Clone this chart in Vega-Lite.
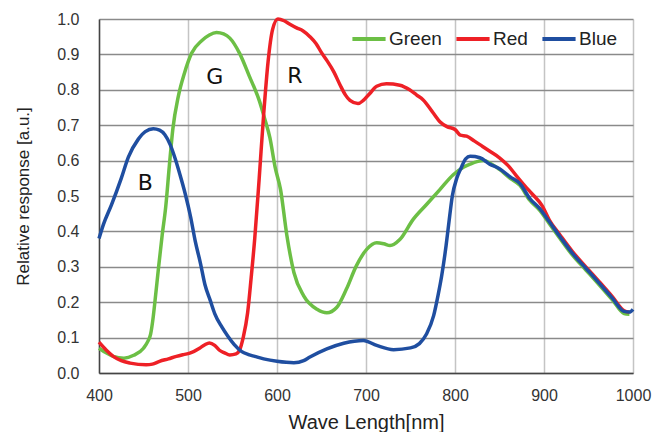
{
  "$schema": "https://vega.github.io/schema/vega-lite/v6.json",
  "width": 534,
  "height": 354,
  "autosize": {"type": "none"},
  "padding": {"left": 99, "top": 19, "right": 35, "bottom": 59},
  "background": "white",
  "config": {
    "view": {"stroke": null},
    "font": "Liberation Sans",
    "axis": {"labelFont": "Liberation Sans", "titleFont": "Liberation Sans", "labelColor": "#333", "titleColor": "#222", "labelFontSize": 16, "titleFontWeight": "normal", "ticks": false, "labelFlush": false}
  },
  "datasets": {
    "curves": [
      {"wl": 400, "v": 0.07, "s": "Green"}, {"wl": 408, "v": 0.057, "s": "Green"}, {"wl": 416, "v": 0.047, "s": "Green"}, {"wl": 428, "v": 0.042, "s": "Green"}, {"wl": 439, "v": 0.05, "s": "Green"}, {"wl": 450, "v": 0.07, "s": "Green"}, {"wl": 455, "v": 0.09, "s": "Green"}, {"wl": 458, "v": 0.11, "s": "Green"}, {"wl": 461, "v": 0.16, "s": "Green"}, {"wl": 463, "v": 0.205, "s": "Green"}, {"wl": 467, "v": 0.3, "s": "Green"}, {"wl": 471, "v": 0.39, "s": "Green"}, {"wl": 475, "v": 0.47, "s": "Green"}, {"wl": 479, "v": 0.584, "s": "Green"}, {"wl": 483, "v": 0.69, "s": "Green"}, {"wl": 489, "v": 0.78, "s": "Green"}, {"wl": 496, "v": 0.847, "s": "Green"}, {"wl": 504, "v": 0.903, "s": "Green"}, {"wl": 516, "v": 0.94, "s": "Green"}, {"wl": 524, "v": 0.955, "s": "Green"}, {"wl": 532, "v": 0.962, "s": "Green"}, {"wl": 540, "v": 0.958, "s": "Green"}, {"wl": 547, "v": 0.946, "s": "Green"}, {"wl": 558, "v": 0.903, "s": "Green"}, {"wl": 569, "v": 0.838, "s": "Green"}, {"wl": 580, "v": 0.77, "s": "Green"}, {"wl": 586, "v": 0.72, "s": "Green"}, {"wl": 592, "v": 0.665, "s": "Green"}, {"wl": 598, "v": 0.58, "s": "Green"}, {"wl": 604, "v": 0.518, "s": "Green"}, {"wl": 611, "v": 0.39, "s": "Green"}, {"wl": 619, "v": 0.284, "s": "Green"}, {"wl": 630, "v": 0.218, "s": "Green"}, {"wl": 645, "v": 0.18, "s": "Green"}, {"wl": 656, "v": 0.17, "s": "Green"}, {"wl": 667, "v": 0.185, "s": "Green"}, {"wl": 678, "v": 0.237, "s": "Green"}, {"wl": 689, "v": 0.302, "s": "Green"}, {"wl": 701, "v": 0.35, "s": "Green"}, {"wl": 712, "v": 0.368, "s": "Green"}, {"wl": 720, "v": 0.365, "s": "Green"}, {"wl": 727, "v": 0.36, "s": "Green"}, {"wl": 738, "v": 0.377, "s": "Green"}, {"wl": 753, "v": 0.434, "s": "Green"}, {"wl": 768, "v": 0.476, "s": "Green"}, {"wl": 783, "v": 0.518, "s": "Green"}, {"wl": 798, "v": 0.56, "s": "Green"}, {"wl": 810, "v": 0.582, "s": "Green"}, {"wl": 817, "v": 0.59, "s": "Green"}, {"wl": 832, "v": 0.6, "s": "Green"}, {"wl": 840, "v": 0.592, "s": "Green"}, {"wl": 850, "v": 0.575, "s": "Green"}, {"wl": 862, "v": 0.55, "s": "Green"}, {"wl": 873, "v": 0.53, "s": "Green"}, {"wl": 884, "v": 0.488, "s": "Green"}, {"wl": 895, "v": 0.46, "s": "Green"}, {"wl": 906, "v": 0.422, "s": "Green"}, {"wl": 918, "v": 0.38, "s": "Green"}, {"wl": 932, "v": 0.333, "s": "Green"}, {"wl": 947, "v": 0.291, "s": "Green"}, {"wl": 962, "v": 0.249, "s": "Green"}, {"wl": 977, "v": 0.206, "s": "Green"}, {"wl": 990, "v": 0.168, "s": "Green"}, {"wl": 996, "v": 0.166, "s": "Green"},
      {"wl": 400, "v": 0.087, "s": "Red"}, {"wl": 408, "v": 0.065, "s": "Red"}, {"wl": 416, "v": 0.047, "s": "Red"}, {"wl": 425, "v": 0.035, "s": "Red"}, {"wl": 435, "v": 0.028, "s": "Red"}, {"wl": 453, "v": 0.023, "s": "Red"}, {"wl": 460, "v": 0.025, "s": "Red"}, {"wl": 468, "v": 0.033, "s": "Red"}, {"wl": 478, "v": 0.04, "s": "Red"}, {"wl": 487, "v": 0.047, "s": "Red"}, {"wl": 495, "v": 0.052, "s": "Red"}, {"wl": 502, "v": 0.056, "s": "Red"}, {"wl": 513, "v": 0.07, "s": "Red"}, {"wl": 519, "v": 0.08, "s": "Red"}, {"wl": 524, "v": 0.085, "s": "Red"}, {"wl": 530, "v": 0.078, "s": "Red"}, {"wl": 535, "v": 0.065, "s": "Red"}, {"wl": 541, "v": 0.057, "s": "Red"}, {"wl": 547, "v": 0.051, "s": "Red"}, {"wl": 554, "v": 0.054, "s": "Red"}, {"wl": 558, "v": 0.065, "s": "Red"}, {"wl": 562, "v": 0.1, "s": "Red"}, {"wl": 567, "v": 0.17, "s": "Red"}, {"wl": 571, "v": 0.27, "s": "Red"}, {"wl": 575, "v": 0.38, "s": "Red"}, {"wl": 580, "v": 0.55, "s": "Red"}, {"wl": 585, "v": 0.73, "s": "Red"}, {"wl": 590, "v": 0.88, "s": "Red"}, {"wl": 595, "v": 0.97, "s": "Red"}, {"wl": 601, "v": 1.0, "s": "Red"}, {"wl": 608, "v": 0.995, "s": "Red"}, {"wl": 614, "v": 0.986, "s": "Red"}, {"wl": 622, "v": 0.975, "s": "Red"}, {"wl": 629, "v": 0.967, "s": "Red"}, {"wl": 637, "v": 0.95, "s": "Red"}, {"wl": 644, "v": 0.93, "s": "Red"}, {"wl": 650, "v": 0.905, "s": "Red"}, {"wl": 656, "v": 0.883, "s": "Red"}, {"wl": 664, "v": 0.85, "s": "Red"}, {"wl": 671, "v": 0.813, "s": "Red"}, {"wl": 677, "v": 0.785, "s": "Red"}, {"wl": 682, "v": 0.77, "s": "Red"}, {"wl": 691, "v": 0.761, "s": "Red"}, {"wl": 697, "v": 0.77, "s": "Red"}, {"wl": 704, "v": 0.789, "s": "Red"}, {"wl": 712, "v": 0.81, "s": "Red"}, {"wl": 723, "v": 0.817, "s": "Red"}, {"wl": 738, "v": 0.813, "s": "Red"}, {"wl": 749, "v": 0.8, "s": "Red"}, {"wl": 757, "v": 0.785, "s": "Red"}, {"wl": 764, "v": 0.772, "s": "Red"}, {"wl": 776, "v": 0.733, "s": "Red"}, {"wl": 783, "v": 0.71, "s": "Red"}, {"wl": 791, "v": 0.696, "s": "Red"}, {"wl": 800, "v": 0.688, "s": "Red"}, {"wl": 806, "v": 0.672, "s": "Red"}, {"wl": 813, "v": 0.669, "s": "Red"}, {"wl": 822, "v": 0.655, "s": "Red"}, {"wl": 831, "v": 0.64, "s": "Red"}, {"wl": 840, "v": 0.625, "s": "Red"}, {"wl": 850, "v": 0.608, "s": "Red"}, {"wl": 860, "v": 0.585, "s": "Red"}, {"wl": 869, "v": 0.557, "s": "Red"}, {"wl": 878, "v": 0.53, "s": "Red"}, {"wl": 887, "v": 0.505, "s": "Red"}, {"wl": 898, "v": 0.472, "s": "Red"}, {"wl": 906, "v": 0.432, "s": "Red"}, {"wl": 918, "v": 0.39, "s": "Red"}, {"wl": 932, "v": 0.343, "s": "Red"}, {"wl": 947, "v": 0.3, "s": "Red"}, {"wl": 962, "v": 0.258, "s": "Red"}, {"wl": 977, "v": 0.215, "s": "Red"}, {"wl": 990, "v": 0.176, "s": "Red"}, {"wl": 996, "v": 0.172, "s": "Red"},
      {"wl": 400, "v": 0.38, "s": "Blue"}, {"wl": 405, "v": 0.42, "s": "Blue"}, {"wl": 414, "v": 0.475, "s": "Blue"}, {"wl": 425, "v": 0.55, "s": "Blue"}, {"wl": 433, "v": 0.61, "s": "Blue"}, {"wl": 444, "v": 0.66, "s": "Blue"}, {"wl": 452, "v": 0.682, "s": "Blue"}, {"wl": 461, "v": 0.69, "s": "Blue"}, {"wl": 468, "v": 0.686, "s": "Blue"}, {"wl": 474, "v": 0.673, "s": "Blue"}, {"wl": 480, "v": 0.645, "s": "Blue"}, {"wl": 485, "v": 0.61, "s": "Blue"}, {"wl": 491, "v": 0.56, "s": "Blue"}, {"wl": 497, "v": 0.505, "s": "Blue"}, {"wl": 503, "v": 0.44, "s": "Blue"}, {"wl": 508, "v": 0.374, "s": "Blue"}, {"wl": 514, "v": 0.31, "s": "Blue"}, {"wl": 519, "v": 0.25, "s": "Blue"}, {"wl": 525, "v": 0.205, "s": "Blue"}, {"wl": 530, "v": 0.168, "s": "Blue"}, {"wl": 538, "v": 0.13, "s": "Blue"}, {"wl": 545, "v": 0.103, "s": "Blue"}, {"wl": 552, "v": 0.08, "s": "Blue"}, {"wl": 560, "v": 0.061, "s": "Blue"}, {"wl": 568, "v": 0.052, "s": "Blue"}, {"wl": 575, "v": 0.047, "s": "Blue"}, {"wl": 585, "v": 0.04, "s": "Blue"}, {"wl": 600, "v": 0.033, "s": "Blue"}, {"wl": 619, "v": 0.029, "s": "Blue"}, {"wl": 630, "v": 0.035, "s": "Blue"}, {"wl": 637, "v": 0.045, "s": "Blue"}, {"wl": 656, "v": 0.068, "s": "Blue"}, {"wl": 675, "v": 0.084, "s": "Blue"}, {"wl": 697, "v": 0.092, "s": "Blue"}, {"wl": 712, "v": 0.078, "s": "Blue"}, {"wl": 731, "v": 0.066, "s": "Blue"}, {"wl": 750, "v": 0.071, "s": "Blue"}, {"wl": 760, "v": 0.083, "s": "Blue"}, {"wl": 768, "v": 0.11, "s": "Blue"}, {"wl": 776, "v": 0.162, "s": "Blue"}, {"wl": 781, "v": 0.22, "s": "Blue"}, {"wl": 785, "v": 0.274, "s": "Blue"}, {"wl": 790, "v": 0.36, "s": "Blue"}, {"wl": 794, "v": 0.443, "s": "Blue"}, {"wl": 797, "v": 0.5, "s": "Blue"}, {"wl": 802, "v": 0.55, "s": "Blue"}, {"wl": 807, "v": 0.58, "s": "Blue"}, {"wl": 812, "v": 0.605, "s": "Blue"}, {"wl": 817, "v": 0.612, "s": "Blue"}, {"wl": 828, "v": 0.608, "s": "Blue"}, {"wl": 839, "v": 0.59, "s": "Blue"}, {"wl": 850, "v": 0.577, "s": "Blue"}, {"wl": 862, "v": 0.554, "s": "Blue"}, {"wl": 873, "v": 0.535, "s": "Blue"}, {"wl": 884, "v": 0.493, "s": "Blue"}, {"wl": 895, "v": 0.465, "s": "Blue"}, {"wl": 906, "v": 0.427, "s": "Blue"}, {"wl": 918, "v": 0.385, "s": "Blue"}, {"wl": 932, "v": 0.338, "s": "Blue"}, {"wl": 947, "v": 0.296, "s": "Blue"}, {"wl": 962, "v": 0.254, "s": "Blue"}, {"wl": 977, "v": 0.211, "s": "Blue"}, {"wl": 990, "v": 0.174, "s": "Blue"}, {"wl": 996, "v": 0.172, "s": "Blue"}, {"wl": 1000, "v": 0.18, "s": "Blue"}
    ],
    "labels": [
      {"wl": 530, "v": 0.835, "t": "G"},
      {"wl": 620, "v": 0.84, "t": "R"},
      {"wl": 452, "v": 0.536, "t": "B"}
    ]
  },
  "encoding": {
    "x": {"field": "wl", "type": "quantitative", "scale": {"domain": [400, 1000], "nice": false},
      "axis": {"values": [400, 500, 600, 700, 800, 900, 1000], "format": "d", "title": "Wave Length[nm]", "titleFontSize": 20, "titlePadding": 9, "labelPadding": 14, "domainColor": "#444", "domainWidth": 1.5, "gridColor": "#c4c4c4", "gridWidth": 1.5}},
    "y": {"field": "v", "type": "quantitative", "scale": {"domain": [0, 1], "nice": false},
      "axis": {"values": [0, 0.1, 0.2, 0.3, 0.4, 0.5, 0.6, 0.7, 0.8, 0.9, 1.0], "format": ".1f", "title": "Relative response [a.u.]", "titleFontSize": 17, "titlePadding": 24, "labelPadding": 20, "domainColor": "#444", "domainWidth": 1.5, "gridColor": "#8a8a8a", "gridWidth": 1.5}}
  },
  "layer": [
    {
      "data": {"name": "curves"},
      "transform": [{"filter": "datum.s === 'Green'"}],
      "mark": {"type": "line", "strokeWidth": 3.5, "interpolate": "monotone"},
      "encoding": {"color": {"field": "s", "type": "nominal",
        "scale": {"domain": ["Green", "Red", "Blue"], "range": ["#6cbf45", "#ee2026", "#1f4ea0"]},
        "legend": {"title": null, "orient": "none", "direction": "horizontal", "legendX": 251, "legendY": 1, "symbolType": "stroke", "symbolSize": 1100, "symbolStrokeWidth": 4, "labelFontSize": 19, "labelFont": "Liberation Sans", "labelColor": "#222", "labelOffset": 1, "columnPadding": 6}}}
    },
    {
      "data": {"name": "curves"},
      "transform": [{"filter": "datum.s === 'Red'"}],
      "mark": {"type": "line", "strokeWidth": 3.5, "interpolate": "monotone"},
      "encoding": {"color": {"field": "s", "type": "nominal"}}
    },
    {
      "data": {"name": "curves"},
      "transform": [{"filter": "datum.s === 'Blue'"}],
      "mark": {"type": "line", "strokeWidth": 3.5, "interpolate": "monotone"},
      "encoding": {"color": {"field": "s", "type": "nominal"}}
    },
    {
      "data": {"name": "labels"},
      "mark": {"type": "text", "fontSize": 22, "font": "DejaVu Sans", "color": "#111"},
      "encoding": {"text": {"field": "t"}}
    }
  ]
}
